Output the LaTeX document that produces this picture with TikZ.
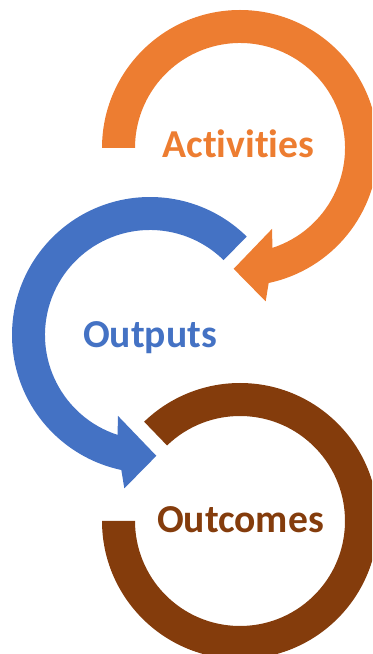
\documentclass[tikz,border=0pt]{standalone}
\usepackage{fontspec}
\setmainfont{Carlito}[Ligatures={NoCommon,NoRequired,NoContextual}]
\usetikzlibrary{calc}
\definecolor{actorange}{HTML}{ED7D31}
\definecolor{outblue}{HTML}{4472C4}
\definecolor{outcbrown}{HTML}{843C0C}
\tikzset{labeltext/.style={font=\fontsize{29.7}{35}\selectfont\bfseries, inner sep=0pt, anchor=base}}
\begin{document}
\begin{tikzpicture}[x=0.75pt,y=0.75pt]
\useasboundingbox (0,0) rectangle (372,654);
\clip (0,0) rectangle (372,654);
\coordinate (O) at (240,506);
\coordinate (B) at (150,319);
\coordinate (W) at (240,133);
% Activities arrow (clockwise, ends at bottom pointing left)
\fill[actorange] ($(O)+(180:138)$) arc[start angle=180, end angle=-78, radius=138]
  -- ($(O)+(-80.5:155.5)$) -- ($(O)+(-93:121)$) -- ($(O)+(-68.4:87)$)
  -- ($(O)+(-72:105)$) arc[start angle=-72, end angle=180, radius=105] -- cycle;
% Outputs arrow (counter-clockwise, ends at bottom pointing right)
\fill[outblue] ($(B)+(45.5:138)$) arc[start angle=45.5, end angle=258, radius=138]
  -- ($(B)+(260.5:155.5)$) -- ($(B)+(273:121)$) -- ($(B)+(248.4:87)$)
  -- ($(B)+(252:105)$) arc[start angle=252, end angle=45.5, radius=105] -- cycle;
% Outcomes ring
\fill[outcbrown] ($(W)+(180:138)$) arc[start angle=180, end angle=494, radius=138]
  -- ($(W)+(494:105)$) arc[start angle=494, end angle=180, radius=105] -- cycle;
\node[labeltext, text=actorange] (act) at (238.5,496.3) {Activities};
\node[labeltext, text=outblue] (outp) at (150,306) {Outputs};
\node[labeltext, text=outcbrown] (outc) at (240.5,121.5) {Outcomes};
\end{tikzpicture}
\end{document}
